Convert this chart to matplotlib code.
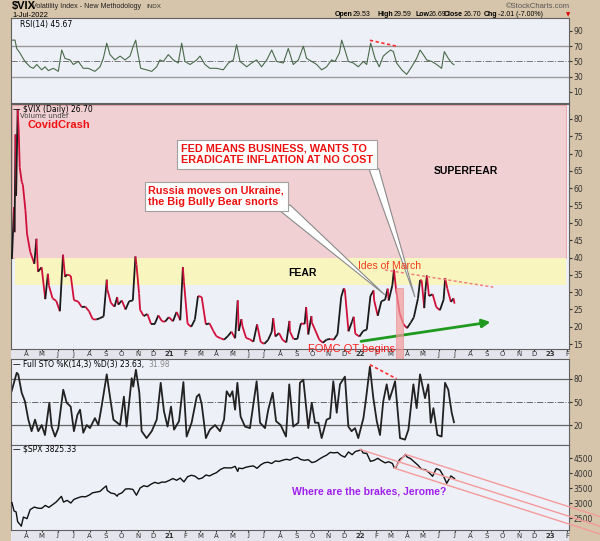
"""
VIX chart recreation - RSI / VIX / Full STO / SPX panels.
"""

import numpy as np
import pandas as pd
import matplotlib
matplotlib.use('Agg')  # Non-interactive backend
import matplotlib.pyplot as plt
from matplotlib.collections import LineCollection
from matplotlib.patches import Polygon, Rectangle

# ---------------- data ----------------
vix_dates = ['2020-03-05', '2020-03-09', '2020-03-10', '2020-03-12', '2020-03-13', '2020-03-16',
             '2020-03-18', '2020-03-20', '2020-03-24', '2020-03-26', '2020-03-31', '2020-04-03',
             '2020-04-09', '2020-04-17', '2020-04-21', '2020-04-24', '2020-05-01', '2020-05-08',
             '2020-05-13', '2020-05-15', '2020-05-22', '2020-05-29', '2020-06-05', '2020-06-11',
             '2020-06-15', '2020-06-19', '2020-06-26', '2020-07-02', '2020-07-10', '2020-07-17',
             '2020-07-24', '2020-07-31', '2020-08-07', '2020-08-14', '2020-08-21', '2020-08-28',
             '2020-09-03', '2020-09-04', '2020-09-11', '2020-09-18', '2020-09-23', '2020-09-25',
             '2020-10-02', '2020-10-09', '2020-10-16', '2020-10-23', '2020-10-28', '2020-10-30',
             '2020-11-04', '2020-11-06', '2020-11-13', '2020-11-20', '2020-11-27', '2020-12-04',
             '2020-12-11', '2020-12-18', '2020-12-24', '2020-12-31', '2021-01-08', '2021-01-15',
             '2021-01-22', '2021-01-27', '2021-01-29', '2021-02-05', '2021-02-12', '2021-02-19',
             '2021-02-25', '2021-03-04', '2021-03-12', '2021-03-19', '2021-03-26', '2021-04-01',
             '2021-04-09', '2021-04-16', '2021-04-23', '2021-04-30', '2021-05-07', '2021-05-12',
             '2021-05-14', '2021-05-19', '2021-05-21', '2021-05-28', '2021-06-04', '2021-06-11',
             '2021-06-18', '2021-06-25', '2021-07-02', '2021-07-09', '2021-07-16', '2021-07-19',
             '2021-07-23', '2021-07-30', '2021-08-06', '2021-08-13', '2021-08-19', '2021-08-20',
             '2021-08-27', '2021-09-03', '2021-09-10', '2021-09-17', '2021-09-20', '2021-09-24',
             '2021-09-30', '2021-10-01', '2021-10-08', '2021-10-15', '2021-10-22', '2021-10-29',
             '2021-11-05', '2021-11-12', '2021-11-19', '2021-11-26', '2021-12-01', '2021-12-03',
             '2021-12-10', '2021-12-17', '2021-12-20', '2021-12-23', '2021-12-31', '2022-01-07',
             '2022-01-14', '2022-01-21', '2022-01-27', '2022-01-28', '2022-02-04', '2022-02-11',
             '2022-02-18', '2022-02-23', '2022-02-25', '2022-03-04', '2022-03-07', '2022-03-11',
             '2022-03-18', '2022-03-25', '2022-04-01', '2022-04-08', '2022-04-14', '2022-04-22',
             '2022-04-26', '2022-04-29', '2022-05-04', '2022-05-06', '2022-05-09', '2022-05-13',
             '2022-05-20', '2022-05-27', '2022-06-03', '2022-06-10', '2022-06-13', '2022-06-17',
             '2022-06-24', '2022-06-29', '2022-07-01']
vix_close = [39.6, 54.5, 47.3, 75.5, 57.8, 82.7,
             76.5, 66.0, 61.7, 61.0, 53.5, 46.8,
             41.7, 38.2, 45.4, 35.9, 37.2, 28.0,
             35.3, 31.9, 28.2, 27.5, 24.5, 40.8,
             34.4, 35.1, 34.7, 27.7, 27.3, 25.7,
             25.8, 24.5, 22.2, 22.1, 22.5, 23.0,
             33.6, 30.8, 26.9, 25.8, 28.6, 26.4,
             27.6, 25.0, 27.4, 27.6, 40.3, 38.0,
             29.6, 24.9, 23.1, 23.7, 20.8, 20.8,
             23.3, 21.6, 21.5, 22.8, 21.6, 24.3,
             21.9, 37.2, 33.1, 20.9, 20.0, 22.1,
             28.9, 28.6, 20.7, 21.0, 18.9, 17.3,
             16.7, 16.3, 17.3, 18.6, 16.7, 27.6,
             18.8, 22.2, 20.2, 16.8, 16.4, 15.7,
             20.7, 15.6, 15.1, 16.2, 18.5, 22.5,
             17.2, 18.2, 16.2, 15.5, 21.7, 18.6,
             16.4, 16.4, 21.0, 20.8, 25.7, 17.8,
             23.1, 21.2, 18.8, 16.3, 15.4, 16.3,
             16.5, 16.3, 17.9, 28.6, 31.1, 30.7,
             18.7, 21.6, 22.9, 18.0, 17.2, 18.8,
             19.2, 28.9, 30.5, 27.7, 23.2, 27.4,
             27.8, 31.0, 27.6, 32.0, 36.5, 30.8,
             23.9, 20.8, 19.6, 21.2, 22.7, 28.2,
             33.5, 33.4, 25.4, 30.2, 34.8, 28.9,
             29.4, 25.7, 24.8, 27.8, 34.0, 31.1,
             27.2, 28.2, 26.7]

spx_dates = ['2020-03-05', '2020-03-09', '2020-03-13', '2020-03-16', '2020-03-20', '2020-03-23',
             '2020-03-27', '2020-04-03', '2020-04-09', '2020-04-17', '2020-04-24', '2020-05-01',
             '2020-05-08', '2020-05-15', '2020-05-22', '2020-05-29', '2020-06-08', '2020-06-12',
             '2020-06-19', '2020-06-26', '2020-07-02', '2020-07-10', '2020-07-17', '2020-07-24',
             '2020-07-31', '2020-08-07', '2020-08-14', '2020-08-21', '2020-08-28', '2020-09-02',
             '2020-09-04', '2020-09-11', '2020-09-18', '2020-09-23', '2020-09-25', '2020-10-02',
             '2020-10-09', '2020-10-16', '2020-10-23', '2020-10-30', '2020-11-06', '2020-11-13',
             '2020-11-20', '2020-11-27', '2020-12-04', '2020-12-11', '2020-12-18', '2020-12-24',
             '2020-12-31', '2021-01-08', '2021-01-15', '2021-01-22', '2021-01-29', '2021-02-05',
             '2021-02-12', '2021-02-19', '2021-02-26', '2021-03-05', '2021-03-12', '2021-03-19',
             '2021-03-26', '2021-04-01', '2021-04-09', '2021-04-16', '2021-04-23', '2021-04-30',
             '2021-05-07', '2021-05-12', '2021-05-14', '2021-05-21', '2021-05-28', '2021-06-04',
             '2021-06-11', '2021-06-18', '2021-06-25', '2021-07-02', '2021-07-09', '2021-07-16',
             '2021-07-23', '2021-07-30', '2021-08-06', '2021-08-13', '2021-08-20', '2021-08-27',
             '2021-09-03', '2021-09-10', '2021-09-17', '2021-09-24', '2021-10-01', '2021-10-08',
             '2021-10-15', '2021-10-22', '2021-10-29', '2021-11-05', '2021-11-12', '2021-11-19',
             '2021-11-26', '2021-12-03', '2021-12-10', '2021-12-17', '2021-12-23', '2021-12-31',
             '2022-01-03', '2022-01-07', '2022-01-14', '2022-01-21', '2022-01-28', '2022-02-04',
             '2022-02-11', '2022-02-18', '2022-02-25', '2022-03-04', '2022-03-08', '2022-03-11',
             '2022-03-18', '2022-03-25', '2022-03-29', '2022-04-01', '2022-04-08', '2022-04-14',
             '2022-04-22', '2022-04-29', '2022-05-06', '2022-05-13', '2022-05-20', '2022-05-27',
             '2022-06-03', '2022-06-10', '2022-06-16', '2022-06-24', '2022-07-01']
spx_close = [3024, 2747, 2711, 2386, 2305, 2237,
             2541, 2489, 2790, 2875, 2837, 2831,
             2930, 2864, 2955, 3044, 3232, 3041,
             3098, 3009, 3130, 3185, 3225, 3216,
             3271, 3351, 3373, 3397, 3508, 3580,
             3427, 3341, 3319, 3237, 3298, 3348,
             3477, 3483, 3465, 3270, 3510, 3585,
             3557, 3638, 3699, 3663, 3709, 3703,
             3756, 3825, 3768, 3841, 3714, 3887,
             3934, 3907, 3811, 3842, 3943, 3913,
             3975, 4020, 4129, 4185, 4180, 4181,
             4233, 4063, 4174, 4156, 4204, 4230,
             4247, 4166, 4281, 4352, 4370, 4327,
             4412, 4395, 4437, 4468, 4442, 4509,
             4535, 4459, 4433, 4455, 4357, 4391,
             4471, 4545, 4605, 4697, 4682, 4698,
             4595, 4538, 4712, 4620, 4725, 4766,
             4796, 4677, 4663, 4398, 4432, 4500,
             4419, 4349, 4385, 4329, 4170, 4204,
             4463, 4543, 4632, 4546, 4488, 4393,
             4272, 4132, 4123, 4024, 3901, 4158,
             4109, 3901, 3667, 3912, 3825]

# RSI(14) and Full STO, times as decimal years
rsi_t = [2020.173, 2020.191, 2020.200, 2020.217, 2020.243, 2020.270, 2020.287, 2020.305, 2020.331,
         2020.348, 2020.366, 2020.392, 2020.418, 2020.436, 2020.453, 2020.479, 2020.497, 2020.523,
         2020.549, 2020.575, 2020.610, 2020.637, 2020.654, 2020.672, 2020.689, 2020.715, 2020.742,
         2020.768, 2020.794, 2020.811, 2020.824, 2020.832, 2020.850, 2020.881, 2020.908, 2020.934,
         2020.951, 2020.969, 2020.995, 2021.021, 2021.047, 2021.065, 2021.082, 2021.109, 2021.144,
         2021.161, 2021.187, 2021.213, 2021.248, 2021.283, 2021.310, 2021.336, 2021.353, 2021.371,
         2021.406, 2021.432, 2021.458, 2021.484, 2021.511, 2021.537, 2021.563, 2021.598, 2021.624,
         2021.650, 2021.677, 2021.703, 2021.720, 2021.747, 2021.773, 2021.799, 2021.825, 2021.851,
         2021.869, 2021.892, 2021.904, 2021.921, 2021.939, 2021.965, 2021.991, 2022.018, 2022.035,
         2022.056, 2022.079, 2022.101, 2022.122, 2022.140, 2022.161, 2022.175, 2022.192, 2022.219,
         2022.245, 2022.271, 2022.297, 2022.315, 2022.332, 2022.350, 2022.376, 2022.402, 2022.428,
         2022.442, 2022.463, 2022.481, 2022.493]
rsi_val = [78, 78, 67, 61, 50, 43, 41, 46, 39,
           43, 38, 41, 37, 65, 54, 52, 46, 50,
           41, 41, 37, 43, 54, 74, 59, 52, 57,
           52, 57, 70, 78, 65, 41, 39, 37, 43,
           52, 50, 59, 52, 48, 74, 50, 46, 52,
           57, 46, 41, 41, 39, 48, 52, 72, 50,
           43, 48, 52, 43, 52, 65, 50, 48, 67,
           46, 52, 70, 54, 50, 46, 39, 43, 52,
           50, 61, 78, 65, 50, 48, 43, 50, 46,
           74, 54, 43, 57, 61, 65, 63, 48, 39,
           33, 43, 54, 65, 59, 52, 50, 46, 41,
           63, 54, 48, 45.67]

sto_t = [2020.173, 2020.200, 2020.208, 2020.226, 2020.243, 2020.261, 2020.278, 2020.296, 2020.313,
         2020.331, 2020.348, 2020.371, 2020.383, 2020.401, 2020.418, 2020.444, 2020.462, 2020.483,
         2020.500, 2020.518, 2020.532, 2020.549, 2020.567, 2020.584, 2020.610, 2020.628, 2020.645,
         2020.672, 2020.689, 2020.707, 2020.742, 2020.762, 2020.776, 2020.803, 2020.811, 2020.825,
         2020.843, 2020.855, 2020.881, 2020.908, 2020.934, 2020.955, 2020.972, 2020.991, 2021.009,
         2021.025, 2021.051, 2021.074, 2021.091, 2021.117, 2021.144, 2021.157, 2021.170, 2021.192,
         2021.213, 2021.240, 2021.266, 2021.287, 2021.301, 2021.318, 2021.331, 2021.345, 2021.357,
         2021.374, 2021.397, 2021.423, 2021.458, 2021.476, 2021.502, 2021.519, 2021.542, 2021.560,
         2021.584, 2021.612, 2021.629, 2021.650, 2021.677, 2021.685, 2021.703, 2021.729, 2021.747,
         2021.764, 2021.782, 2021.799, 2021.825, 2021.843, 2021.860, 2021.878, 2021.895, 2021.921,
         2021.939, 2021.956, 2021.974, 2021.991, 2022.018, 2022.031, 2022.052, 2022.070, 2022.088,
         2022.105, 2022.122, 2022.140, 2022.154, 2022.171, 2022.184, 2022.210, 2022.236, 2022.254,
         2022.280, 2022.297, 2022.315, 2022.341, 2022.358, 2022.371, 2022.385, 2022.406, 2022.428,
         2022.446, 2022.463, 2022.481, 2022.493]
sto_val = [64, 88, 86, 62, 51, 27, 12, 27, 12,
           20, 7, 49, 18, 5, 16, 66, 49, 44,
           12, 33, 40, 10, 20, 16, 29, 20, 44,
           86, 57, 27, 20, 57, 18, 81, 70, 92,
           62, 12, 3, 12, 27, 75, 38, 18, 44,
           14, 25, 76, 5, 23, 57, 60, 47, 3,
           14, 20, 12, 27, 64, 57, 64, 40, 75,
           31, 18, 16, 77, 23, 16, 40, 62, 25,
           20, 5, 73, 18, 23, 75, 79, 16, 49,
           23, 23, 3, 27, 29, 77, 36, 73, 83,
           18, 12, 16, 3, 29, 53, 96, 55, 25,
           7, 51, 73, 53, 66, 77, 3, 1, 14,
           73, 42, 86, 55, 73, 23, 42, 7, 5,
           75, 66, 36, 23.63]

month_letters = ['J', 'F', 'M', 'A', 'M', 'J', 'J', 'A', 'S', 'O', 'N', 'D']
vix_ticks = [15, 20, 25, 30, 35, 40, 45, 50, 55, 60, 65, 70, 75, 80]
rsi_ticks = [10, 30, 50, 70, 90]
sto_ticks = [20, 50, 80]
spx_ticks = [2500, 3000, 3500, 4000, 4500]

# colours
BG_FIG = '#d6c5aa'
BG_AX = '#eef0f8'
PINK = '#f0d0d3'
YELLOW = '#f8f6be'
CHANNEL = '#f49a9a'

XMIN, XMAX = 2020.170, 2023.096
W, H = 600, 541
HFONT = 'Liberation Sans'


def dec_year(dates):
    d = pd.to_datetime(pd.Series(dates))
    days = np.where(d.dt.is_leap_year, 366, 365)
    return (d.dt.year + (d.dt.dayofyear - 1) / days).to_numpy()


def px_axes(top, bottom, left=11, right=569):
    ax = fig.add_axes([left / W, 1 - bottom / H, (right - left) / W, (bottom - top) / H])
    ax.set_facecolor(BG_AX)
    ax.set_xlim(XMIN, XMAX)
    ax.yaxis.tick_right()
    ax.tick_params(axis='y', labelsize=5.5, length=2, pad=1, colors='#333333')
    for s in ax.spines.values():
        s.set_color('#606060')
        s.set_linewidth(0.8)
    return ax


def month_axis(ax, labels=True):
    months = pd.date_range('2020-04-01', '2023-02-01', freq='MS')
    ax.set_xticks(dec_year(months))
    if labels:
        lab = [f"{m.year % 100}" if m.month == 1 else month_letters[m.month - 1] for m in months]
        ax.set_xticklabels(lab)
        for tl, m in zip(ax.get_xticklabels(), months):
            if m.month == 1:
                tl.set_fontweight('bold')
        ax.tick_params(axis='x', labelsize=5, length=1.5, pad=0.3, colors='#333333')
    else:
        ax.set_xticklabels([])
        ax.tick_params(axis='x', length=0)


fig = plt.figure(figsize=(W / 100, H / 100), dpi=100, facecolor=BG_FIG)

# light bands behind the date labels
for top, bot in [(349, 359), (530, 541)]:
    fig.patches.append(Rectangle((11 / W, 1 - bot / H), 558 / W, (bot - top) / H,
                                 transform=fig.transFigure, fc='#e4e4ec', ec='none', zorder=-5))

# ---------------- header ----------------
fig.text(12 / W, 1 - 6.5 / H, '$VIX', family=HFONT, fontsize=8, fontweight='bold', va='center')
fig.text(32 / W, 1 - 7 / H, 'Volatility Index - New Methodology', family=HFONT, fontsize=5.1,
         va='center', color='#222222')
fig.text(146 / W, 1 - 7 / H, 'INDX', family=HFONT, fontsize=4.5, va='center', color='#333333')
fig.text(12 / W, 1 - 15.5 / H, '1-Jul-2022', family=HFONT, fontsize=5.5, va='center')
fig.text(570 / W, 1 - 6 / H, '\u00a9StockCharts.com', family=HFONT, fontsize=5.5, color='#555555',
         ha='right', va='center')
hdr = [(335, 'Open', True), (353, '29.53', False), (377, 'High', True), (394, '29.59', False),
       (415, 'Low', True), (429, '26.69', False), (444, 'Close', True), (464, '26.70', False),
       (484, 'Chg', True), (498, '-2.01 (-7.00%)', False)]
for x, s, b in hdr:
    fig.text(x / W, 1 - 15 / H, s, family=HFONT, fontsize=5,
             fontweight='bold' if b else 'normal', va='center')
fig.text(568 / W, 1 - 15 / H, '\u25bc', fontsize=4, color='#dd0000', ha='center', va='center')

# ---------------- RSI panel ----------------
ax1 = px_axes(18, 103)
ax1.set_ylim(-4.5, 107)
ax1.set_yticks(rsi_ticks)
month_axis(ax1, labels=False)
ax1.axhline(70, color='#9a9a9a', lw=1)
ax1.axhline(30, color='#9a9a9a', lw=1)
ax1.axhline(50, color='#777777', lw=0.7, ls='-.')
ax1.plot(rsi_t, rsi_val, color='#4a6a4a', lw=0.8)
ax1.plot([2022.052, 2022.192], [77.8, 70], color='#ff3030', lw=1.2, ls=(0, (2, 1.5)))
ax1.text(0.016, 0.92, 'RSI(14) 45.67', transform=ax1.transAxes, fontsize=5.5, va='center')

# ---------------- VIX panel ----------------
ax2 = px_axes(104, 349)
ax2.set_ylim(13.6, 84.3)
ax2.set_yticks(vix_ticks)
month_axis(ax2)
ax2.add_patch(Rectangle((2020.175, 40), 2023.078 - 2020.175, 84.0 - 40, fc=PINK, ec='#e8a0a0', lw=0.6, zorder=1))
ax2.add_patch(Rectangle((2020.191, 32.1), 2023.078 - 2020.191, 40 - 32.1, fc=YELLOW, ec='none', zorder=1))

t = dec_year(vix_dates)
v = np.array(vix_close)
segs = np.stack([np.column_stack([t[:-1], v[:-1]]), np.column_stack([t[1:], v[1:]])], axis=1)
cols = np.where(np.diff(v) >= 0, '#1a1a1a', '#d0103a')
ax2.add_collection(LineCollection(segs, colors=cols, linewidths=1.3, zorder=3))

# dotted resistance line and green support arrow
ax2.plot([2022.131, 2022.699], [36.4, 31.45], color='#f08080', lw=1.1, ls=(0, (2, 1.5)), zorder=4)
ax2.annotate('', xy=(2022.699, 21.5), xytext=(2021.991, 15.7),
             arrowprops=dict(arrowstyle='-|>', color='#1f9a1f', lw=2, mutation_scale=12), zorder=4)
ax2.add_patch(Rectangle((2022.189, 10.4), 0.037, 31.2 - 10.4, fc='#f29a9a', ec='#e88888',
                        lw=0.6, alpha=0.7, clip_on=False, zorder=4))

# callouts
ax2.add_patch(Polygon([(2021.580, 53.5), (2021.633, 55.2), (2022.131, 29.2)], closed=True,
                      fc='white', ec='#8a8a8a', lw=0.8, zorder=5))
ax2.add_patch(Polygon([(2022.047, 65.6), (2022.099, 65.6), (2022.288, 28.6)], closed=True,
                      fc='white', ec='#8a8a8a', lw=0.8, zorder=5))
box = dict(boxstyle='square,pad=0.35', fc='white', ec='#a0a0a0', lw=0.8)
ax2.text(2021.062, 69.7, 'FED MEANS BUSINESS, WANTS TO\nERADICATE INFLATION AT NO COST',
         family=HFONT, fontsize=7.8, fontweight='bold', color='#ee1111',
         va='center', ha='left', linespacing=1.15, bbox=box, zorder=6)
ax2.text(2020.890, 57.6, 'Russia moves on Ukraine,\nthe Big Bully Bear snorts',
         family=HFONT, fontsize=7.8, fontweight='bold', color='#ee1111',
         va='center', ha='left', linespacing=1.15, bbox=box, zorder=6)

ax2.text(2020.259, 78.2, 'CovidCrash', family=HFONT, fontsize=8, fontweight='bold',
         color='#ee1111', va='center', zorder=6)
ax2.text(2022.554, 65.1, 'SUPERFEAR', family=HFONT, fontsize=7.5, fontweight='bold',
         ha='center', va='center', zorder=6)
ax2.text(2021.696, 35.6, 'FEAR', family=HFONT, fontsize=7.5, fontweight='bold',
         ha='center', va='center', zorder=6)
ax2.text(2022.157, 37.6, 'Ides of March', family=HFONT, fontsize=7.5,
         color='#f03a1a', ha='center', va='center', zorder=6)
ax2.text(2021.958, 13.5, 'FOMC QT begins', family=HFONT, fontsize=8,
         color='#ff2020', ha='center', va='center', clip_on=False, zorder=6)

ax2.text(0.003, 0.978, '\u2014 $VIX (Daily) 26.70', transform=ax2.transAxes, fontsize=5.5, va='center', zorder=7)
ax2.text(0.016, 0.95, 'Volume undef', transform=ax2.transAxes, fontsize=5, color='#444444',
         va='center', zorder=7)

# ---------------- Full STO panel ----------------
ax3 = px_axes(359, 445)
ax3.set_ylim(-6, 106)
ax3.set_yticks(sto_ticks)
month_axis(ax3, labels=False)
ax3.axhline(80, color='#666666', lw=0.9)
ax3.axhline(20, color='#666666', lw=0.9)
ax3.axhline(50, color='#666666', lw=0.7, ls='-.')
ax3.plot(sto_t, sto_val, color='#222222', lw=1.3)
ax3.plot([2022.052, 2022.192], [98.6, 80.2], color='#ff3030', lw=1.2, ls=(0, (2, 1.5)))
ax3.text(0.003, 0.94, '\u2014 Full STO %K(14,3) %D(3) 23.63,', transform=ax3.transAxes,
         fontsize=5.5, va='center')
ax3.text(0.247, 0.94, '31.98', transform=ax3.transAxes, fontsize=5.5, color='#888888', va='center')

# ---------------- SPX panel ----------------
ax4 = px_axes(445, 530)
ax4.set_ylim(2110, 4944)
ax4.set_yticks(spx_ticks)
month_axis(ax4)
ts = dec_year(spx_dates)
ax4.plot(ts, spx_close, color='#111111', lw=1.0, zorder=3)

# falling channel from the Jan high, the Mar low and the Mar high
slope = -2034.0  # points per year
t_end = 2023.258
for t0, p0 in [(2022.000, 4796), (2022.238, 4632), (2022.181, 4170)]:
    ax4.plot([t0, t_end], [p0, p0 + slope * (t_end - t0)], color=CHANNEL, lw=1.0,
             clip_on=False, zorder=4)
ax4.plot([2022.181, 2022.238], [4170, 4632], color=CHANNEL, lw=1.0, zorder=4)

ax4.text(2022.047, 3377, 'Where are the brakes, Jerome?', family=HFONT, fontsize=7.5,
         fontweight='bold', color='#a020f0', ha='center', va='center', zorder=6)
ax4.text(0.003, 0.95, '\u2014 $SPX 3825.33', transform=ax4.transAxes, fontsize=5.5, va='center')

fig.savefig('out.png', dpi=100, facecolor=BG_FIG)
plt.close(fig)
